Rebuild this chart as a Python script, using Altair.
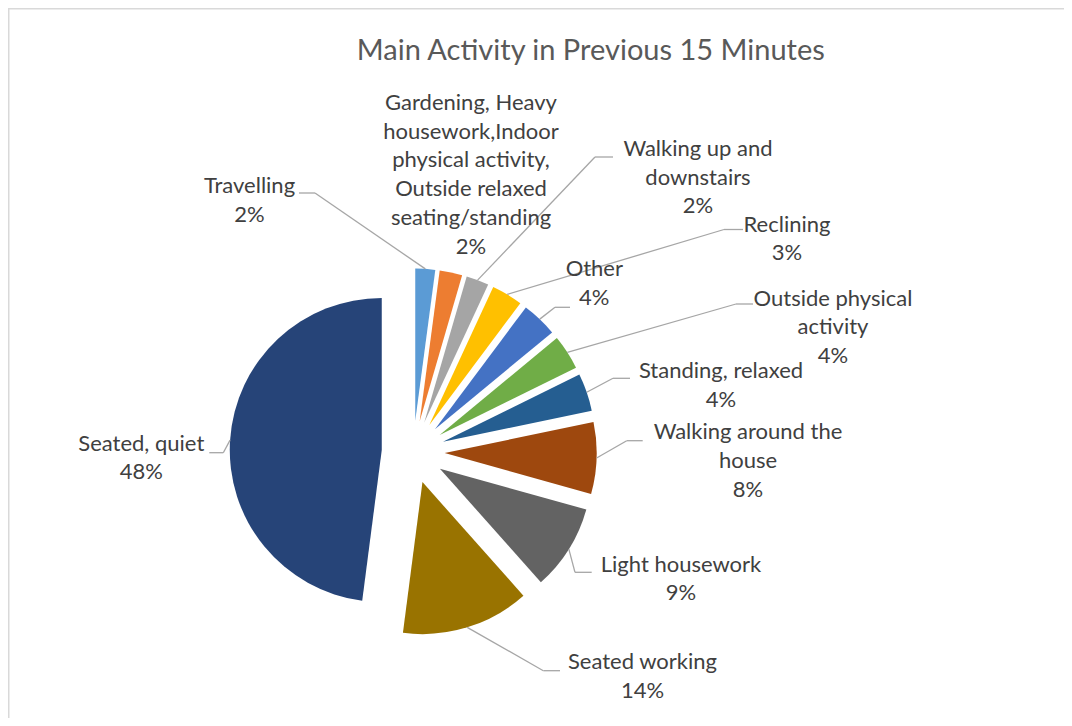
import altair as alt
import pandas as pd

# ---------------- data ----------------
categories = [
    "Travelling",
    "Gardening, Heavy housework,Indoor physical activity, Outside relaxed seating/standing",
    "Walking up and downstairs",
    "Reclining",
    "Other",
    "Outside physical activity",
    "Standing, relaxed",
    "Walking around the house",
    "Light housework",
    "Seated working",
    "Seated, quiet",
]
values = [2.1, 2.4, 2.4, 3.3, 3.8, 3.7, 4.0, 7.6, 9.1, 13.6, 47.9]

# ---------------- styles ----------------
palette = ["#5B9BD5", "#ED7D31", "#A5A5A5", "#FFC000", "#4472C4", "#70AD47",
           "#255E91", "#9E480E", "#636363", "#997300", "#264478"]

# ---------------- layout (page pixels) ----------------
ORIGIN = 8
W, H = 1056, 710
CX, CY = 413.2 - ORIGIN, 452.0 - ORIGIN
R = 152
EXPLODE = 31.5

label_wrap = [
    "Travelling",
    "Gardening, Heavy\nhousework,Indoor\nphysical activity,\nOutside relaxed\nseating/standing",
    "Walking up and\ndownstairs",
    "Reclining",
    "Other",
    "Outside physical\nactivity",
    "Standing, relaxed",
    "Walking around the\nhouse",
    "Light housework",
    "Seated working",
    "Seated, quiet",
]
label_x = [249.5, 471, 698, 787, 594.3, 833, 721, 748, 681, 642.5, 141.3]
label_y = [193, 110, 156, 231.5, 276, 305.7, 378.3, 439.3, 571.7, 669.3, 450.7]
elbow_x = [315, None, 595, 724, 555, 736, 613, 626.7, 575, 543.3, 223.3]
elbow_y = [193, None, 157, 229.5, 307.3, 304, 378.3, 440.7, 572.3, 670.7, 452.7]
end_x = [299, None, 613, 743, 570, 753, 630, 642.7, 591.7, 560, 209.3]
end_y = [193, None, 157, 229.5, 307.3, 304, 378.3, 440.7, 572.3, 670.7, 452.7]


def shift(v):
    return None if v is None else v - ORIGIN


df = pd.DataFrame({
    "category": categories,
    "value": values,
    "order": list(range(len(categories))),
    "wrap": label_wrap,
    "lx": [shift(v) for v in label_x],
    "ly": [shift(v) for v in label_y],
    "bx": [shift(v) for v in elbow_x],
    "by": [shift(v) for v in elbow_y],
    "ex": [shift(v) for v in end_x],
    "ey": [shift(v) for v in end_y],
})

base = (
    alt.Chart(df)
    .transform_joinaggregate(total="sum(value)")
    .transform_window(cum="sum(value)", sort=[alt.SortField("order")], frame=[None, 0])
    .transform_calculate(
        a0="2*PI*(datum.cum-datum.value)/datum.total",
        a1="2*PI*datum.cum/datum.total",
    )
    .transform_calculate(mid="(datum.a0+datum.a1)/2")
    .transform_calculate(
        ox=f"{CX}+{EXPLODE}*sin(datum.mid)",
        oy=f"{CY}-{EXPLODE}*cos(datum.mid)",
        px=f"{CX}+{EXPLODE + R}*sin(datum.mid)",
        py=f"{CY}-{EXPLODE + R}*cos(datum.mid)",
        txt="datum.wrap + '\\n' + format(datum.value/datum.total, '.0%')",
    )
)

arcs = base.mark_arc(radius=R).encode(
    x=alt.X("ox:Q", scale=None, axis=None),
    y=alt.Y("oy:Q", scale=None, axis=None),
    theta=alt.Theta("a0:Q", scale=None, stack=None),
    theta2="a1:Q",
    color=alt.Color("category:N", scale=alt.Scale(domain=categories, range=palette), legend=None),
)

leader1 = base.transform_filter("isValid(datum.bx)").mark_rule(
    color="#A6A6A6", strokeWidth=1.3
).encode(
    x=alt.X("px:Q", scale=None, axis=None),
    y=alt.Y("py:Q", scale=None, axis=None),
    x2="bx:Q",
    y2="by:Q",
)
leader2 = base.transform_filter("isValid(datum.bx)").mark_rule(
    color="#A6A6A6", strokeWidth=1.3
).encode(
    x=alt.X("bx:Q", scale=None, axis=None),
    y=alt.Y("by:Q", scale=None, axis=None),
    x2="ex:Q",
    y2="ey:Q",
)

labels = base.mark_text(
    font="Lato", fontSize=22, color="#404040", align="center",
    baseline="alphabetic", lineBreak="\n", lineHeight=28.7,
).encode(
    x=alt.X("lx:Q", scale=None, axis=None),
    y=alt.Y("ly:Q", scale=None, axis=None),
    text="txt:N",
)

one = alt.Data(values=[{"t": "Main Activity in Previous 15 Minutes"}])
title = alt.Chart(one).mark_text(
    font="Lato", fontSize=29, color="#595959", align="center", baseline="alphabetic"
).encode(
    x=alt.value(590.8 - ORIGIN), y=alt.value(60 - ORIGIN), text="t:N"
)

border_left = alt.Chart(one).mark_rule(color="#D9D9D9", strokeWidth=1.5).encode(
    x=alt.value(0.75), y=alt.value(0), y2=alt.value(H)
)
border_top = alt.Chart(one).mark_rule(color="#D9D9D9", strokeWidth=1.5).encode(
    y=alt.value(0.75), x=alt.value(0), x2=alt.value(W)
)

chart = (
    alt.layer(border_left, border_top, arcs, leader1, leader2, labels, title)
    .properties(width=W, height=H, padding=0,
                autosize=alt.AutoSizeParams(type="none"))
    .configure_view(strokeWidth=0)
)

chart.save("out.html", embed_options={"renderer": "svg", "actions": False})
